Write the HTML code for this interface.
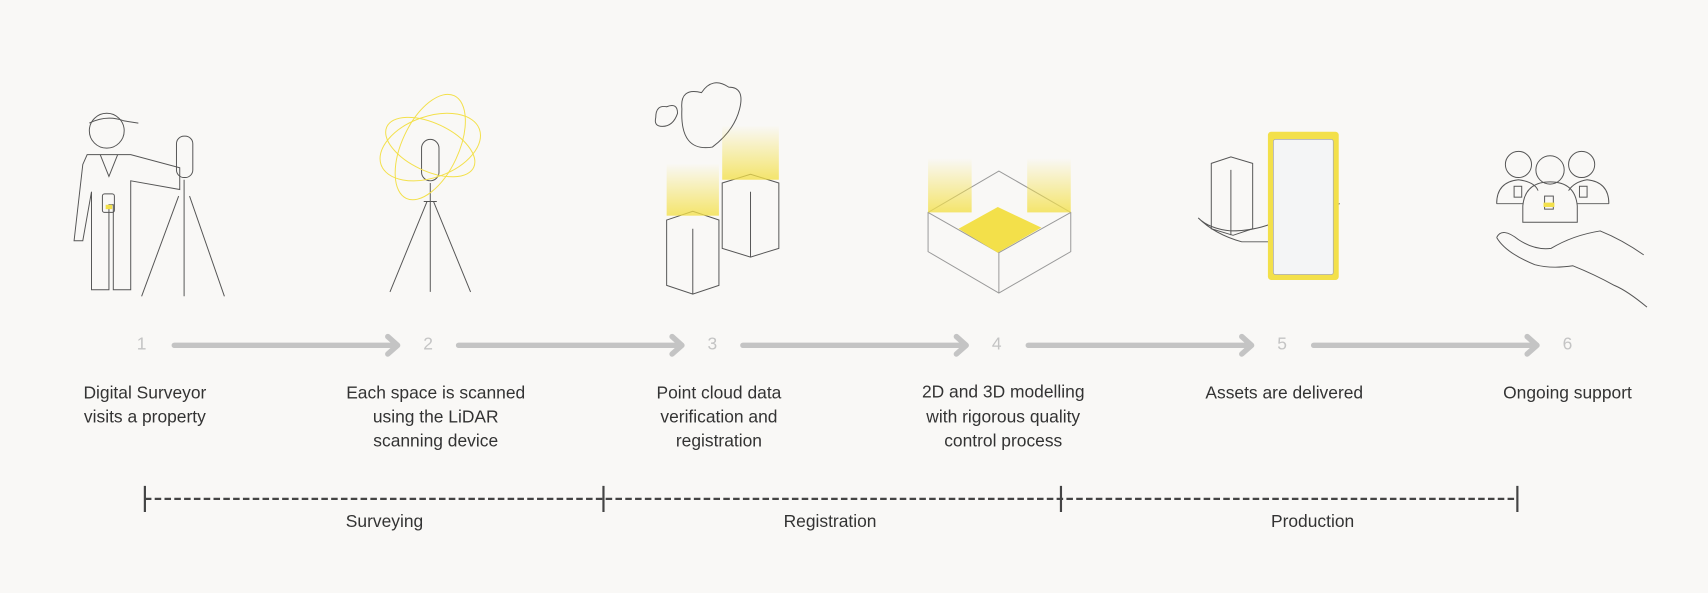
<!DOCTYPE html>
<html><head><meta charset="utf-8"><style>
html,body{margin:0;padding:0;background:#f9f8f6;}
svg{display:block}
text{font-family:"Liberation Sans",sans-serif;}
</style></head><body>
<svg width="1708" height="593" viewBox="0 0 1568 544.4" xmlns="http://www.w3.org/2000/svg">
<defs>
<linearGradient id="gy" x1="0" y1="1" x2="0" y2="0"><stop offset="0" stop-color="#f3e04a" stop-opacity=".8"/><stop offset="1" stop-color="#f3e04a" stop-opacity="0"/></linearGradient>
<linearGradient id="gy2" x1="0" y1="0" x2="0" y2="1"><stop offset="0" stop-color="#f3e04a" stop-opacity=".6"/><stop offset="1" stop-color="#f3e04a" stop-opacity="0"/></linearGradient>
</defs>
<rect width="1568" height="545" fill="#f9f8f6"/>
<g fill="none" stroke="#555" stroke-width="0.9">
<!-- Icon 1 -->
<circle cx="98" cy="120" r="16"/>
<path d="M82 113 q16 -8 32 -2 l13 2"/>
<path d="M80 142 h40 l45 12 v20 l-45 -8 v100 h-16 v-78 h-4 v78 h-16 v-90 l-8 45 h-8 l8 -70 z"/>
<path d="M92 142 l8 20 l8 -20"/>
<rect x="94" y="178" width="11" height="17" rx="2"/>
<rect x="162" y="125" width="15" height="38" rx="7"/>
<path d="M169 165 v107 M164 180 l-34 92 M174 180 l32 92"/>
<!-- Icon 2 -->
<rect x="387" y="128" width="16" height="38" rx="8"/>
<path d="M395 168 v100 M392 185 l-34 83 M398 185 l34 83 M389 185 h12"/>
<!-- Icon 3 buildings -->
<path d="M612 202 l24 -8 l24 8 v60 l-24 8 l-24 -8 z M636 194 v0 M636 210 v60"/>
<path d="M663 168 l26 -8 l26 8 v60 l-26 8 l-26 -8 z M689 176 v60"/>
<path d="M626 100 q-2 -20 18 -15 q10 -15 25 -5 q15 0 10 20 q-5 20 -25 35 q-30 5 -28 -35z"/>
<path d="M602 108 q0 -12 10 -10 q10 -4 10 6 q-4 12 -14 12 q-8 0 -6 -8z"/>
<!-- Icon 4 -->
<path d="M852 195 l65 -38 l66 38 v36 l-66 38 l-65 -38 z M852 195 l65 37 l66 -37 M917 232 v37 M917 157 v0" stroke="#999"/>
<!-- Icon 5 -->
<path d="M1112 150 l18 -6 l20 6 v60 l-18 6 l-20 -6 z M1130 156 v60"/>
<path d="M1100 200 q10 10 30 12 q25 0 45 -10 q25 -8 55 -15 M1100 200 q15 15 40 22 l50 0 q20 10 35 30"/>
<!-- Icon 6 -->
<circle cx="1394" cy="151" r="12"/><circle cx="1452" cy="151" r="12"/><circle cx="1423" cy="156" r="13"/>
<path d="M1374 187 q0 -20 20 -22 q15 2 18 10 M1477 187 q0 -20 -20 -22 q-12 2 -17 10 M1398 204 v-15 q2 -22 25 -22 q23 0 25 22 v15 z M1374 187 h24 M1448 187 h29"/>
<rect x="1418" y="180" width="8" height="12"/><rect x="1390" y="171" width="7" height="10"/><rect x="1450" y="171" width="7" height="10"/>
<path d="M1374 218 q5 -10 20 2 q15 10 30 8 q20 -12 45 -16 q20 8 40 22 M1374 218 q8 14 35 25 q15 4 35 1 q20 8 38 18 q12 5 30 20"/>
</g>
<!-- yellow accents -->
<rect x="97" y="188" width="6" height="4" fill="#f3e04a"/>
<g fill="none" stroke="#f3e04a" stroke-width="0.9">
<ellipse cx="395" cy="135" rx="48" ry="28" transform="rotate(-20 395 135)"/>
<ellipse cx="395" cy="135" rx="26" ry="52" transform="rotate(25 395 135)"/>
<ellipse cx="395" cy="135" rx="44" ry="22" transform="rotate(25 395 135)"/>
</g>
<rect x="612" y="150" width="48" height="48" fill="url(#gy)"/>
<rect x="663" y="115" width="52" height="50" fill="url(#gy)"/>
<rect x="852" y="145" width="40" height="50" fill="url(#gy)"/>
<rect x="943" y="145" width="40" height="50" fill="url(#gy)"/>
<polygon points="880,210 916,190 956,209 916,232" fill="#f3e04a"/>
<rect x="1164" y="121" width="65" height="136" rx="3" fill="#f3e04a"/>
<rect x="1169" y="128" width="55" height="124" rx="2" fill="#f4f5f6" stroke="#aaa" stroke-width="0.7"/>
<rect x="1417" y="186" width="10" height="4" fill="#f3e04a"/>
<!-- arrows -->
<g stroke="#c4c4c4" stroke-width="5" fill="none" stroke-linecap="round" stroke-linejoin="round">
<path d="M160 317 H365 M356 309 l9 8 l-9 8"/>
<path d="M421 317 H626 M617 309 l9 8 l-9 8"/>
<path d="M682 317 H887 M878 309 l9 8 l-9 8"/>
<path d="M944 317 H1149 M1140 309 l9 8 l-9 8"/>
<path d="M1206 317 H1411 M1402 309 l9 8 l-9 8"/>
</g>
<g fill="#c4c4c4" font-size="16" text-anchor="middle">
<text x="130" y="321">1</text><text x="393" y="321">2</text><text x="654" y="321">3</text>
<text x="915" y="321">4</text><text x="1177" y="321">5</text><text x="1439" y="321">6</text>
</g>
<g fill="#333" font-size="16" text-anchor="middle">
<text x="133" y="366">Digital Surveyor</text><text x="133" y="388">visits a property</text>
<text x="400" y="366">Each space is scanned</text><text x="400" y="388">using the LiDAR</text><text x="400" y="410">scanning device</text>
<text x="660" y="366">Point cloud data</text><text x="660" y="388">verification and</text><text x="660" y="410">registration</text>
<text x="921" y="365">2D and 3D modelling</text><text x="921" y="388">with rigorous quality</text><text x="921" y="410">control process</text>
<text x="1179" y="366">Assets are delivered</text>
<text x="1439" y="366">Ongoing support</text>
<text x="353" y="484">Surveying</text><text x="762" y="484">Registration</text><text x="1205" y="484">Production</text>
</g>
<g stroke="#444">
<path d="M133 458 H1393" stroke-width="2" stroke-dasharray="6 3"/>
<path d="M133 446 v24 M554 446 v24 M974 446 v24 M1393 446 v24" stroke-width="2"/>
</g>
</svg>
</body></html>
